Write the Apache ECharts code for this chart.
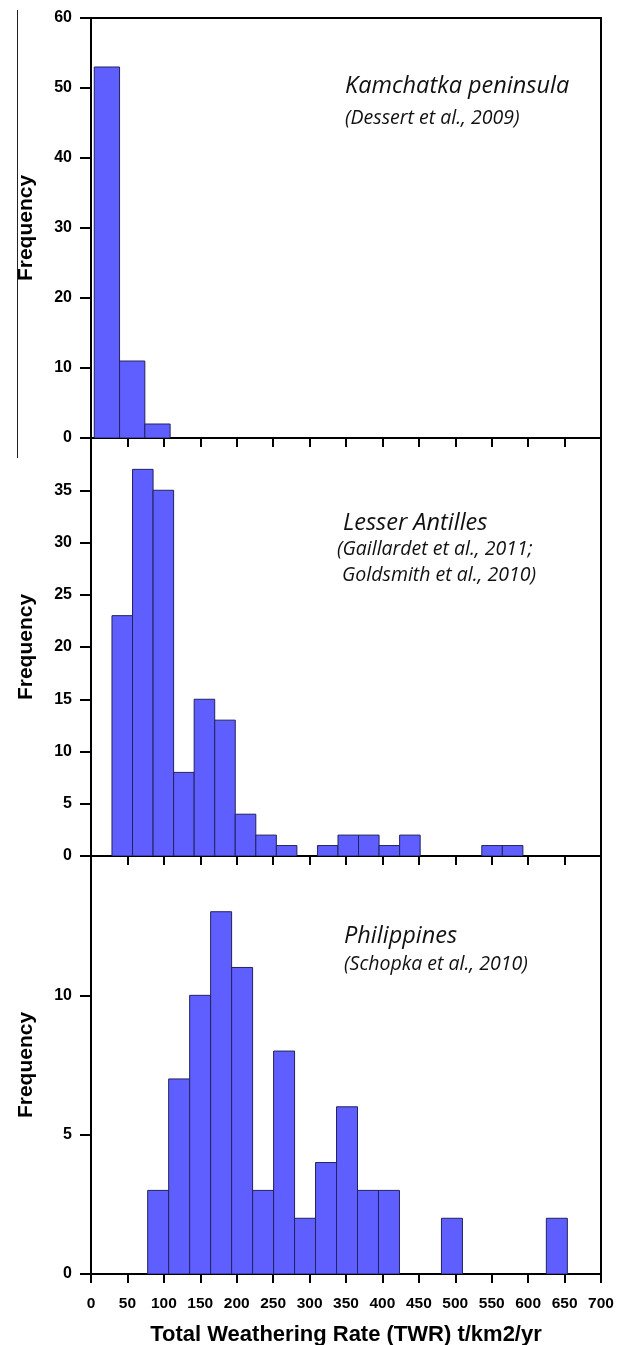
<!DOCTYPE html>
<html>
<head>
<meta charset="utf-8">
<script src="https://cdn.jsdelivr.net/npm/echarts@6/dist/echarts.min.js"></script>
<style>
  html, body { margin: 0; padding: 0; background: #fff; }
  #chart { width: 625px; height: 1345px; }
</style>
</head>
<body>
<div id="chart"></div>
<script>
// Histogram counts per bin (bins of equal width, starting at binStart)
const kamchatkaCounts = [53, 11, 2];
const kamchatkaBinStart = 4.5;
const kamchatkaBinWidth = 34.7;

const antillesCounts = [23, 37, 35, 8, 15, 13, 4, 2, 1, 0, 1, 2, 2, 1, 2, 0, 0, 0, 1, 1];
const antillesBinStart = 28.8;
const antillesBinWidth = 28.2;

const philippinesCounts = [3, 7, 10, 13, 11, 3, 8, 2, 4, 6, 3, 3, 0, 0, 2, 0, 0, 0, 0, 2];
const philippinesBinStart = 77.8;
const philippinesBinWidth = 28.8;

// Axis ranges
const xRange = [0, 700, 50];
const yRanges = [[0, 60, 10], [0, 40, 5], [0, 15, 5]];

const xAxisTitle = 'Total Weathering Rate (TWR) t/km2/yr';
const yAxisTitle = 'Frequency';

const panelTitles = ['Kamchatka peninsula', 'Lesser Antilles', 'Philippines'];
const panelRefs = [
  ['(Dessert et al., 2009)'],
  ['(Gaillardet et al., 2011;', ' Goldsmith et al., 2010)'],
  ['(Schopka et al., 2010)']
];

function toBins(counts, start, width) {
  const out = [];
  counts.forEach((c, i) => {
    if (c > 0) out.push([start + i * width, start + (i + 1) * width, c]);
  });
  return out;
}

const BAR_FILL = '#5f5fff';
const BAR_STROKE = '#22225e';

function renderBin(params, api) {
  const p0 = api.coord([api.value(0), 0]);
  const p1 = api.coord([api.value(1), api.value(2)]);
  return {
    type: 'rect',
    shape: { x: p0[0], y: p1[1], width: p1[0] - p0[0], height: p0[1] - p1[1] },
    style: { fill: BAR_FILL, stroke: BAR_STROKE, lineWidth: 1 }
  };
}

const LEFT = 91, RIGHT = 24;
const grids = [
  { left: LEFT, right: RIGHT, top: 18, height: 420 },
  { left: LEFT, right: RIGHT, top: 438, height: 418 },
  { left: LEFT, right: RIGHT, top: 856, height: 418 }
].map(g => Object.assign(g, {
  show: true, borderColor: '#000', borderWidth: 2, backgroundColor: 'transparent',
  containLabel: false, outerBoundsMode: 'none'
}));

const labelFont = { fontFamily: 'Liberation Sans, Arial, sans-serif', fontWeight: 'bold', color: '#000' };

const xAxes = [0, 1, 2].map(i => ({
  type: 'value', gridIndex: i,
  min: xRange[0], max: xRange[1], interval: xRange[2],
  axisLine: { show: true, lineStyle: { color: '#000', width: 2 } },
  axisTick: { show: true, length: 9, lineStyle: { color: '#000', width: 2 } },
  splitLine: { show: false },
  axisLabel: Object.assign({ show: i === 2, fontSize: 15.5, margin: 22 }, labelFont),
  name: i === 2 ? xAxisTitle : '',
  nameLocation: 'middle', nameGap: 50,
  nameTextStyle: Object.assign({ fontSize: 22 }, labelFont)
}));

const yAxes = [0, 1, 2].map(i => ({
  type: 'value', gridIndex: i,
  min: yRanges[i][0], max: yRanges[i][1], interval: yRanges[i][2],
  axisLine: { show: true, lineStyle: { color: '#000', width: 2 } },
  axisTick: { show: true, length: 11, lineStyle: { color: '#000', width: 2 } },
  splitLine: { show: false },
  axisLabel: Object.assign({ fontSize: 16, margin: 19, showMaxLabel: i === 0 }, labelFont),
  name: yAxisTitle, nameLocation: 'middle', nameRotate: 90, nameGap: 54,
  nameTextStyle: Object.assign({ fontSize: 21 }, labelFont)
}));

const series = [
  toBins(kamchatkaCounts, kamchatkaBinStart, kamchatkaBinWidth),
  toBins(antillesCounts, antillesBinStart, antillesBinWidth),
  toBins(philippinesCounts, philippinesBinStart, philippinesBinWidth)
].map((data, i) => ({
  type: 'custom', xAxisIndex: i, yAxisIndex: i,
  renderItem: renderBin,
  encode: { x: [0, 1], y: 2 },
  data: data,
  clip: true
}));

// Panel annotations
const titleFont = 'italic 23.5px "Open Sans", "Noto Sans", sans-serif';
const refFont = 'italic 19.5px "Open Sans", "Noto Sans", sans-serif';
const annot = [];
function addText(text, x, y, font) {
  annot.push({ type: 'text', x: x, y: y, z: 10,
    style: { text: text, font: font, fill: '#111', align: 'left', verticalAlign: 'middle' } });
}
addText(panelTitles[0], 345, 86, titleFont);
addText(panelRefs[0][0], 345, 118.5, refFont);
addText(panelTitles[1], 343, 523.5, titleFont);
addText(panelRefs[1][0], 337, 549, refFont);
addText(panelRefs[1][1], 337, 575, refFont);
addText(panelTitles[2], 344, 936, titleFont);
addText(panelRefs[2][0], 344, 964.5, refFont);
// thin frame line along the left margin
annot.push({ type: 'line', shape: { x1: 17.5, y1: 10, x2: 17.5, y2: 458 },
  style: { stroke: '#222', lineWidth: 1 } });

const chart = echarts.init(document.getElementById('chart'), null, { renderer: 'canvas' });
chart.setOption({
  animation: false,
  backgroundColor: '#fff',
  grid: grids,
  xAxis: xAxes,
  yAxis: yAxes,
  series: series,
  graphic: annot
});
</script>
</body>
</html>
